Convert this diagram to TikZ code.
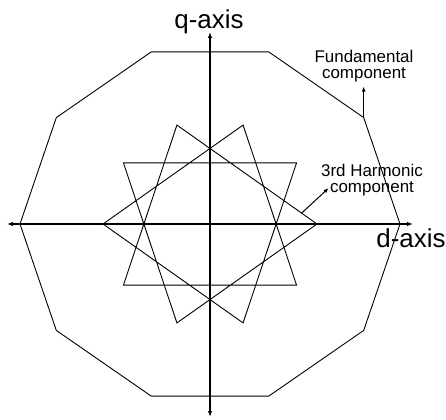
\documentclass[tikz,border=0pt]{standalone}
\usepackage{fontspec}
\setmainfont{Liberation Sans}
\usepackage{tikz}
\usetikzlibrary{arrows.meta,calc}
\tikzset{
  axis/.style={line width=1.4pt,-{Latex[length=6pt,width=4.5pt]}},
  trace/.style={line width=0.9pt,line join=miter},
  pointer/.style={line width=1pt,-{Latex[length=5pt,width=4pt]}},
  axislbl/.style={font=\fontsize{26}{30}\selectfont,inner sep=0pt,anchor=base},
  note/.style={font=\fontsize{17}{16}\selectfont,align=center,inner sep=0pt}
}
\begin{document}
\begin{tikzpicture}[x=1bp,y=1bp]
  \useasboundingbox (-210,-195) rectangle (236,224);
  % corner points of both traces
  \foreach \k in {0,...,9} {
    \coordinate (F\k) at (\k*36:190 and 181);
    \coordinate (S\k) at (\k*36:107 and 104);
  }
  % axes
  \coordinate (O) at (0,0);
  \coordinate (dL) at (-203,0);
  \coordinate (dR) at (203,0);
  \coordinate (qT) at (0,192);
  \coordinate (qB) at (0,-193);
  \draw[axis] (O) -- (dR);
  \draw[axis] (O) -- (dL);
  \draw[axis] (O) -- (qT);
  \draw[axis] (O) -- (qB);
  \node[axislbl] (qlbl) at (-1,196) {q-axis};
  \node[axislbl] (dlbl) at (201,-23) {d-axis};
  % fundamental: decagon
  \draw[trace] (F0) \foreach \k in {1,...,9} {-- (F\k)} -- cycle;
  % 3rd harmonic: star
  \draw[trace] (S0) -- (S3) -- (S6) -- (S9) -- (S2) -- (S5) -- (S8) -- (S1) -- (S4) -- (S7) -- cycle;
  % callouts
  \coordinate (tipF) at ($(F1)+(0,31)$);
  \draw[pointer] (F1) -- (tipF);
  \node[note] (fund) at (154,158) {Fundamental\\component};
  \coordinate (baseH) at ($(S0)!0.11!(S3)$);
  \coordinate (tipH) at ($(baseH)+(27,25)$);
  \draw[pointer] (baseH) -- (tipH);
  \node[note] (harm) at (162,44) {3rd Harmonic\\component};
\end{tikzpicture}
\end{document}
